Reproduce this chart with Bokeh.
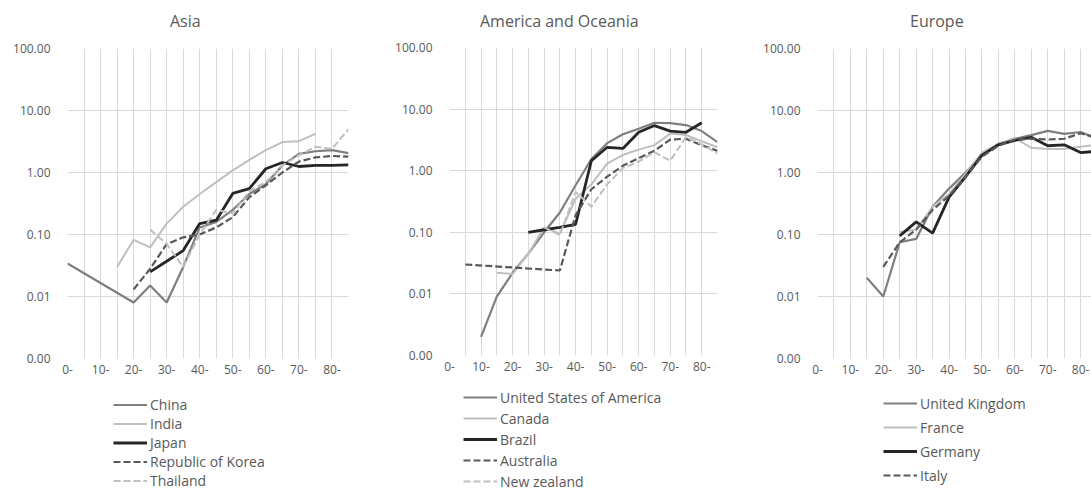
from bokeh.plotting import figure
from bokeh.layouts import row, column
from bokeh.models import (Range1d, FixedTicker, PrintfTickFormatter, Legend,
                          LegendItem, Div)
from bokeh.embed import file_html
from bokeh.resources import INLINE

# ---------------- data ----------------
categories = ["0-", "5-", "10-", "15-", "20-", "25-", "30-", "35-", "40-",
              "45-", "50-", "55-", "60-", "65-", "70-", "75-", "80-", "85-"]
x_tick_labels = ["0-", "10-", "20-", "30-", "40-", "50-", "60-", "70-", "80-"]
y_ticks = [0.001, 0.01, 0.1, 1, 10, 100]

# Asia
china = [0.034, None, None, None, 0.008, 0.015, 0.008, 0.03, 0.13, 0.16,
         0.25, 0.45, 0.65, 1.3, 2.0, 2.2, 2.3, 2.05]
india = [None, None, None, 0.03, 0.082, 0.062, 0.15, 0.28, 0.45, 0.7,
         1.08, 1.6, 2.3, 3.1, 3.2, 4.2, None, None]
japan = [None, None, None, None, None, 0.025, 0.037, 0.055, 0.15, 0.17,
         0.46, 0.55, 1.15, 1.45, 1.25, 1.3, 1.3, 1.33]
korea = [None, None, None, None, 0.013, 0.028, 0.07, 0.09, 0.1, 0.13,
         0.19, 0.4, 0.62, 1.0, 1.5, 1.75, 1.85, 1.8]
thailand = [None, None, None, None, None, 0.12, 0.07, 0.03, 0.1, 0.25,
            0.22, 0.5, 0.7, 1.3, 1.9, 2.6, 2.4, 5.0]

# America and Oceania
usa = [None, None, 0.002, 0.009, 0.022, 0.045, 0.1, 0.21, 0.58, 1.55,
       2.8, 3.9, 4.8, 6.0, 5.9, 5.5, 4.4, 2.9]
canada = [None, None, None, 0.022, 0.021, 0.045, 0.12, 0.095, 0.35, 0.6,
          1.3, 1.8, 2.2, 2.6, 4.0, 3.8, 3.0, 2.4]
brazil = [None, None, None, None, None, 0.1, 0.11, 0.12, 0.135, 1.45,
          2.4, 2.3, 4.2, 5.4, 4.4, 4.2, 6.0, None]
australia = [None, 0.03, None, None, None, None, None, 0.024, 0.19, 0.5,
             0.8, 1.2, 1.6, 2.1, 3.2, 3.3, 2.6, 2.1]
new_zealand = [None, None, None, None, None, None, 0.12, 0.09, 0.45, 0.26,
               0.6, 1.1, 1.4, 2.0, 1.45, 3.5, 2.7, 1.9]

# Europe
uk = [None, None, None, 0.02, 0.01, 0.075, 0.085, 0.28, 0.55, 1.0,
      1.9, 2.9, 3.5, 4.0, 4.7, 4.2, 4.5, 3.5]
france = [None, None, None, None, None, 0.11, 0.12, 0.28, 0.45, 0.95,
          2.1, 2.9, 3.6, 2.5, 2.4, 2.4, 2.6, 2.8]
germany = [None, None, None, None, None, 0.095, 0.16, 0.105, 0.4, 0.85,
           1.9, 2.8, 3.3, 3.7, 2.7, 2.8, 2.1, 2.2]
italy = [None, None, None, None, 0.03, 0.075, 0.12, 0.25, 0.42, 0.85,
         1.8, 2.7, 3.4, 3.5, 3.4, 3.5, 4.3, 3.6]

# ---------------- styles ----------------
MID = "#7f7f7f"
LIGHT = "#bfbfbf"
DARK = "#262626"
DDASH = "#595959"
TXT = "#595959"
FONT = "Open Sans"
GRID = "#d9d9d9"

styles = {
    "solid_mid": dict(line_color=MID, line_width=2.2),
    "solid_light": dict(line_color=LIGHT, line_width=2.0),
    "solid_dark": dict(line_color=DARK, line_width=2.8),
    "dash_dark": dict(line_color=DDASH, line_width=2.2, line_dash="7 3"),
    "dash_light": dict(line_color=LIGHT, line_width=2.0, line_dash="7 3"),
}

TOP = 36        # height of the title strip above each figure
AXIS_BAND = 26  # space below the frame kept for the x-axis labels


def points(vals):
    xs = [i for i, v in enumerate(vals) if v is not None]
    ys = [v for v in vals if v is not None]
    return xs, ys


def make_panel(title, series, width, fl, fr, ft, fb, x_end, title_left,
               leg_left, leg_top, row_h, leg_spacing):
    # ---- main chart ----
    main_h = fb + AXIS_BAND - TOP
    p = figure(width=width, height=main_h,
               x_range=Range1d(0, x_end), y_range=Range1d(0.001, 100),
               y_axis_type="log", output_backend="svg",
               toolbar_location=None, title=None,
               min_border_left=fl, min_border_right=width - fr,
               min_border_top=ft - TOP, min_border_bottom=AXIS_BAND)
    p.outline_line_color = None
    p.background_fill_color = "white"
    p.border_fill_color = "white"

    xt = [categories.index(l) for l in x_tick_labels]
    p.xaxis.ticker = FixedTicker(ticks=xt)
    p.xaxis.major_label_overrides = {i: categories[i] for i in xt}
    p.xgrid.ticker = FixedTicker(ticks=list(range(len(categories))))
    p.yaxis.ticker = FixedTicker(ticks=y_ticks)
    p.ygrid.ticker = FixedTicker(ticks=y_ticks)
    p.yaxis.formatter = PrintfTickFormatter(format="%.2f")
    for ax in (p.xaxis[0], p.yaxis[0]):
        ax.axis_line_color = None
        ax.major_tick_line_color = None
        ax.minor_tick_line_color = None
        ax.major_tick_out = 0
        ax.major_tick_in = 0
        ax.minor_tick_out = 0
        ax.minor_tick_in = 0
        ax.major_label_text_color = TXT
        ax.major_label_text_font = FONT
        ax.major_label_text_font_size = "12px"
    p.xaxis.major_label_standoff = 6
    p.yaxis.major_label_standoff = 17
    for g in (p.xgrid[0], p.ygrid[0]):
        g.grid_line_color = GRID
        g.grid_line_width = 1
    p.ygrid.minor_grid_line_color = None

    for name, vals, st in series:
        xs, ys = points(vals)
        p.line(xs, ys, **styles[st])

    # ---- legend strip (a plot of its own; its frame lines up with the
    #      chart frame above it, from fl to fr) ----
    leg_h = 491 - TOP - main_h
    lp = figure(width=width, height=leg_h,
                x_range=Range1d(-20, -19), y_range=Range1d(0, 1),
                output_backend="svg", toolbar_location=None, title=None,
                x_axis_location=None, y_axis_location=None,
                min_border_left=fl, min_border_right=width - fr,
                min_border_top=0, min_border_bottom=0)
    lp.outline_line_color = None
    lp.background_fill_color = "white"
    lp.border_fill_color = "white"
    for g in lp.grid:
        g.visible = False
    items = []
    for name, vals, st in series:
        xs, ys = points(vals)
        r = lp.line(xs, ys, **styles[st])
        items.append(LegendItem(label=name, renderers=[r]))
    n = len(items)
    box_h = n * row_h + (n - 1) * leg_spacing
    strip_top = TOP + main_h
    vy = leg_h - box_h - (leg_top - strip_top)
    leg = Legend(items=items, location=(int(leg_left - fl), int(vy)),
                 glyph_width=34, glyph_height=row_h, label_height=row_h,
                 label_standoff=3, padding=0, margin=0, spacing=leg_spacing,
                 border_line_color=None, background_fill_alpha=0,
                 label_text_font=FONT, label_text_font_size="14px",
                 label_text_color=TXT)
    lp.add_layout(leg)

    # ---- title ----
    head = Div(text=('<div style="padding:11px 0 0 %dpx; font-family:\'Open Sans\';'
                     ' font-size:16px; line-height:20px; color:%s;'
                     ' white-space:nowrap">%s</div>') % (title_left, TXT, title),
               width=width, height=TOP, margin=0)
    return column(head, p, lp, spacing=0)


p1 = make_panel("Asia",
                [("China", china, "solid_mid"),
                 ("India", india, "solid_light"),
                 ("Japan", japan, "solid_dark"),
                 ("Republic of Korea", korea, "dash_dark"),
                 ("Thailand", thailand, "dash_light")],
                360, 67, 348, 48, 358, 17, 170, 113, 395, 19, 0)
p2 = make_panel("America and Oceania",
                [("United States of America", usa, "solid_mid"),
                 ("Canada", canada, "solid_light"),
                 ("Brazil", brazil, "solid_dark"),
                 ("Australia", australia, "dash_dark"),
                 ("New zealand", new_zealand, "dash_light")],
                365, 89, 357, 47, 355, 17, 480 - 360, 463 - 360, 387, 20, 1)
p3 = make_panel("Europe",
                [("United Kingdom", uk, "solid_mid"),
                 ("France", france, "solid_light"),
                 ("Germany", germany, "solid_dark"),
                 ("Italy", italy, "dash_dark")],
                366, 92, 366, 48, 358, 16.66, 910 - 725, 883 - 725, 393, 20, 4)

layout = row(p1, p2, p3, spacing=0)
open("out.html", "w").write(file_html(layout, INLINE))
